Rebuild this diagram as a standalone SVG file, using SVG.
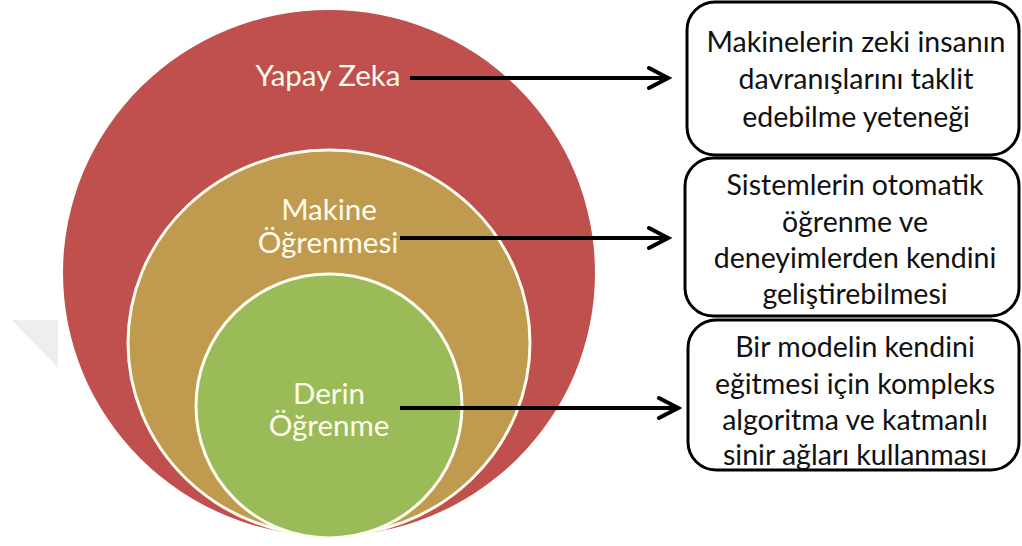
<svg xmlns="http://www.w3.org/2000/svg" width="1022" height="546" viewBox="0 0 1022 546">
  <style>
    .ring { stroke: #FFFDF0; stroke-width: 3; }
    .clabel { font-family: Lato, "Open Sans", sans-serif; font-size: 29.5px; fill: #FFFDEB; text-anchor: middle; }
    .box { fill: #FFFFFF; stroke: #000000; stroke-width: 3; }
    .btext { font-family: Lato, "Open Sans", sans-serif; font-size: 28.5px; fill: #111111; text-anchor: middle; }
    .conn { stroke: #000000; stroke-width: 4; fill: none; }
  </style>
  <defs>
    <marker id="chev" markerUnits="userSpaceOnUse" viewBox="0 0 26 26" markerWidth="26" markerHeight="26" refX="22" refY="13" orient="auto">
      <path d="M3,3 L22,13 L3,23" fill="none" stroke="#000000" stroke-width="4" stroke-linecap="round"/>
    </marker>
  </defs>
  <rect width="1022" height="546" fill="#FFFFFF"/>
  <polygon points="12,320 58,320 58,368" fill="#EEEEEE"/>

  <g id="yapay-zeka">
    <ellipse cx="329" cy="273" rx="266" ry="263" fill="#C0504D"/>
  </g>
  <g id="makine-ogrenmesi">
    <ellipse class="ring" cx="329" cy="343" rx="201" ry="193" fill="#BF9A4F"/>
  </g>
  <g id="derin-ogrenme">
    <ellipse class="ring" cx="329" cy="406" rx="133" ry="132" fill="#9BBB59"/>
  </g>
  <g id="labels">
    <text class="clabel" x="328" y="86">Yapay Zeka</text>
    <text class="clabel" x="329" y="220">Makine</text>
    <text class="clabel" x="328" y="253">Öğrenmesi</text>
    <text class="clabel" x="329" y="404">Derin</text>
    <text class="clabel" x="329" y="436">Öğrenme</text>
  </g>

  <g id="box-yapay-zeka">
    <rect class="box" x="687" y="2" width="332" height="153" rx="28" ry="28"/>
    <text class="btext" x="856" y="52">Makinelerin zeki insanın</text>
    <text class="btext" x="856" y="89">davranışlarını taklit</text>
    <text class="btext" x="856" y="127">edebilme yeteneği</text>
  </g>
  <g id="box-makine-ogrenmesi">
    <rect class="box" x="685" y="158" width="334" height="158" rx="28" ry="28"/>
    <text class="btext" x="855" y="195">Sistemlerin otomatik</text>
    <text class="btext" x="855" y="232">öğrenme ve</text>
    <text class="btext" x="855" y="268">deneyimlerden kendini</text>
    <text class="btext" x="855" y="304">geliştirebilmesi</text>
  </g>
  <g id="box-derin-ogrenme">
    <rect class="box" x="688" y="320" width="331" height="150" rx="28" ry="28"/>
    <text class="btext" x="855" y="357">Bir modelin kendini</text>
    <text class="btext" x="855" y="394">eğitmesi için kompleks</text>
    <text class="btext" x="855" y="430">algoritma ve katmanlı</text>
    <text class="btext" x="855" y="465">sinir ağları kullanması</text>
  </g>

  <g id="connectors">
    <line class="conn" x1="410" y1="78" x2="668" y2="78" marker-end="url(#chev)"/>
    <line class="conn" x1="400" y1="238" x2="668" y2="238" marker-end="url(#chev)"/>
    <line class="conn" x1="400" y1="408" x2="678" y2="408" marker-end="url(#chev)"/>
  </g>
</svg>
